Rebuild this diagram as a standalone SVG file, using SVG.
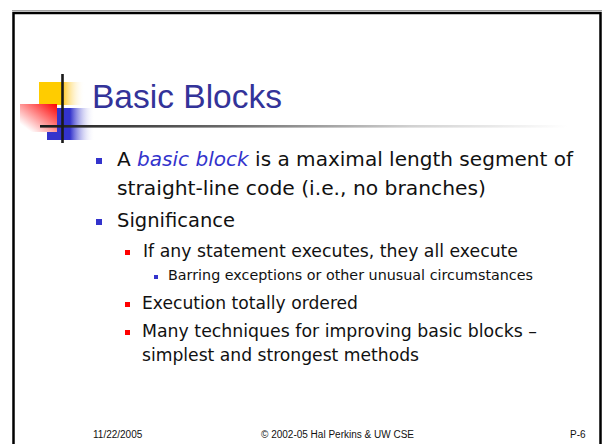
<svg xmlns="http://www.w3.org/2000/svg" width="602" height="444" viewBox="0 0 602 444">
<defs>
<linearGradient id="gy" x1="0" y1="0" x2="1" y2="0"><stop offset="0" stop-color="#ffcc00"/><stop offset="0.5" stop-color="#ffcc00"/><stop offset="0.56" stop-color="#ffd24d"/><stop offset="1" stop-color="#ffffff" stop-opacity="0"/></linearGradient>
<linearGradient id="gb" x1="0" y1="0" x2="1" y2="0"><stop offset="0" stop-color="#3333cc"/><stop offset="0.48" stop-color="#3333cc"/><stop offset="1" stop-color="#ffffff" stop-opacity="0"/></linearGradient>
<linearGradient id="gr" x1="1" y1="0" x2="0" y2="1"><stop offset="0" stop-color="#ff0000"/><stop offset="0.85" stop-color="#ffffff"/><stop offset="1" stop-color="#ffffff"/></linearGradient>
<linearGradient id="gl" x1="0" y1="0" x2="1" y2="0"><stop offset="0" stop-color="#1a1a1a"/><stop offset="0.35" stop-color="#6a6a6a"/><stop offset="0.7" stop-color="#d0d0d0"/><stop offset="1" stop-color="#ffffff"/></linearGradient>
<style>
.t{font-family:"DejaVu Sans",sans-serif;fill:#111}
.l1{font-size:20px}
.l2{font-size:17px}
.l3{font-size:14px}
.f{font-family:"Liberation Sans",Arial,sans-serif;font-size:10px;fill:#111}
.bb{fill:#3333cc}
.br{fill:#ff0000}
</style>
</defs>
<rect width="602" height="444" fill="#ffffff"/>
<line x1="12" y1="10.5" x2="602" y2="10.5" stroke="#a0a0a0" stroke-width="1"/>
<rect x="13.5" y="13" width="587" height="460" fill="none" stroke="#000" stroke-width="2.5"/>
<g id="logo">
<rect x="39" y="82" width="46" height="23" fill="url(#gy)"/>
<rect x="47" y="108" width="48" height="32" fill="url(#gb)"/>
<rect x="20" y="104" width="37" height="28" fill="url(#gr)"/>
<rect x="40" y="125" width="527" height="2.6" fill="url(#gl)"/>
<rect x="61.2" y="74" width="2.6" height="69" fill="#1a1a1a"/>
</g>
<text id="title" x="92" y="108" font-family="Liberation Sans, Arial, sans-serif" font-size="34" fill="#333399" textLength="190" lengthAdjust="spacingAndGlyphs">Basic Blocks</text>
<g id="body">
<rect class="bb" x="96" y="158" width="6" height="6"/>
<text class="t l1" x="117" y="166" textLength="456" lengthAdjust="spacingAndGlyphs">A <tspan font-style="italic" fill="#3333cc">basic block</tspan> is a maximal length segment of</text>
<text class="t l1" x="117" y="195" textLength="369" lengthAdjust="spacingAndGlyphs">straight-line code (i.e., no branches)</text>
<rect class="bb" x="96" y="219" width="6" height="6"/>
<text class="t l1" x="117" y="227" textLength="118" lengthAdjust="spacingAndGlyphs">Significance</text>
<rect class="br" x="125" y="250" width="5" height="5"/>
<text class="t l2" x="143" y="257" textLength="375" lengthAdjust="spacingAndGlyphs">If any statement executes, they all execute</text>
<rect class="bb" x="154" y="275" width="4" height="4"/>
<text class="t l3" x="168" y="280" textLength="365" lengthAdjust="spacingAndGlyphs">Barring exceptions or other unusual circumstances</text>
<rect class="br" x="125" y="302" width="5" height="5"/>
<text class="t l2" x="142" y="309" textLength="216" lengthAdjust="spacingAndGlyphs">Execution totally ordered</text>
<rect class="br" x="125" y="330" width="5" height="5"/>
<text class="t l2" x="142" y="337" textLength="395" lengthAdjust="spacingAndGlyphs">Many techniques for improving basic blocks –</text>
<text class="t l2" x="142" y="361" textLength="277" lengthAdjust="spacingAndGlyphs">simplest and strongest methods</text>
</g>
<g id="footer">
<text class="f" x="93" y="438">11/22/2005</text>
<text class="f" x="261" y="438">© 2002-05 Hal Perkins &amp; UW CSE</text>
<text class="f" x="570" y="438">P-6</text>
</g>
</svg>
